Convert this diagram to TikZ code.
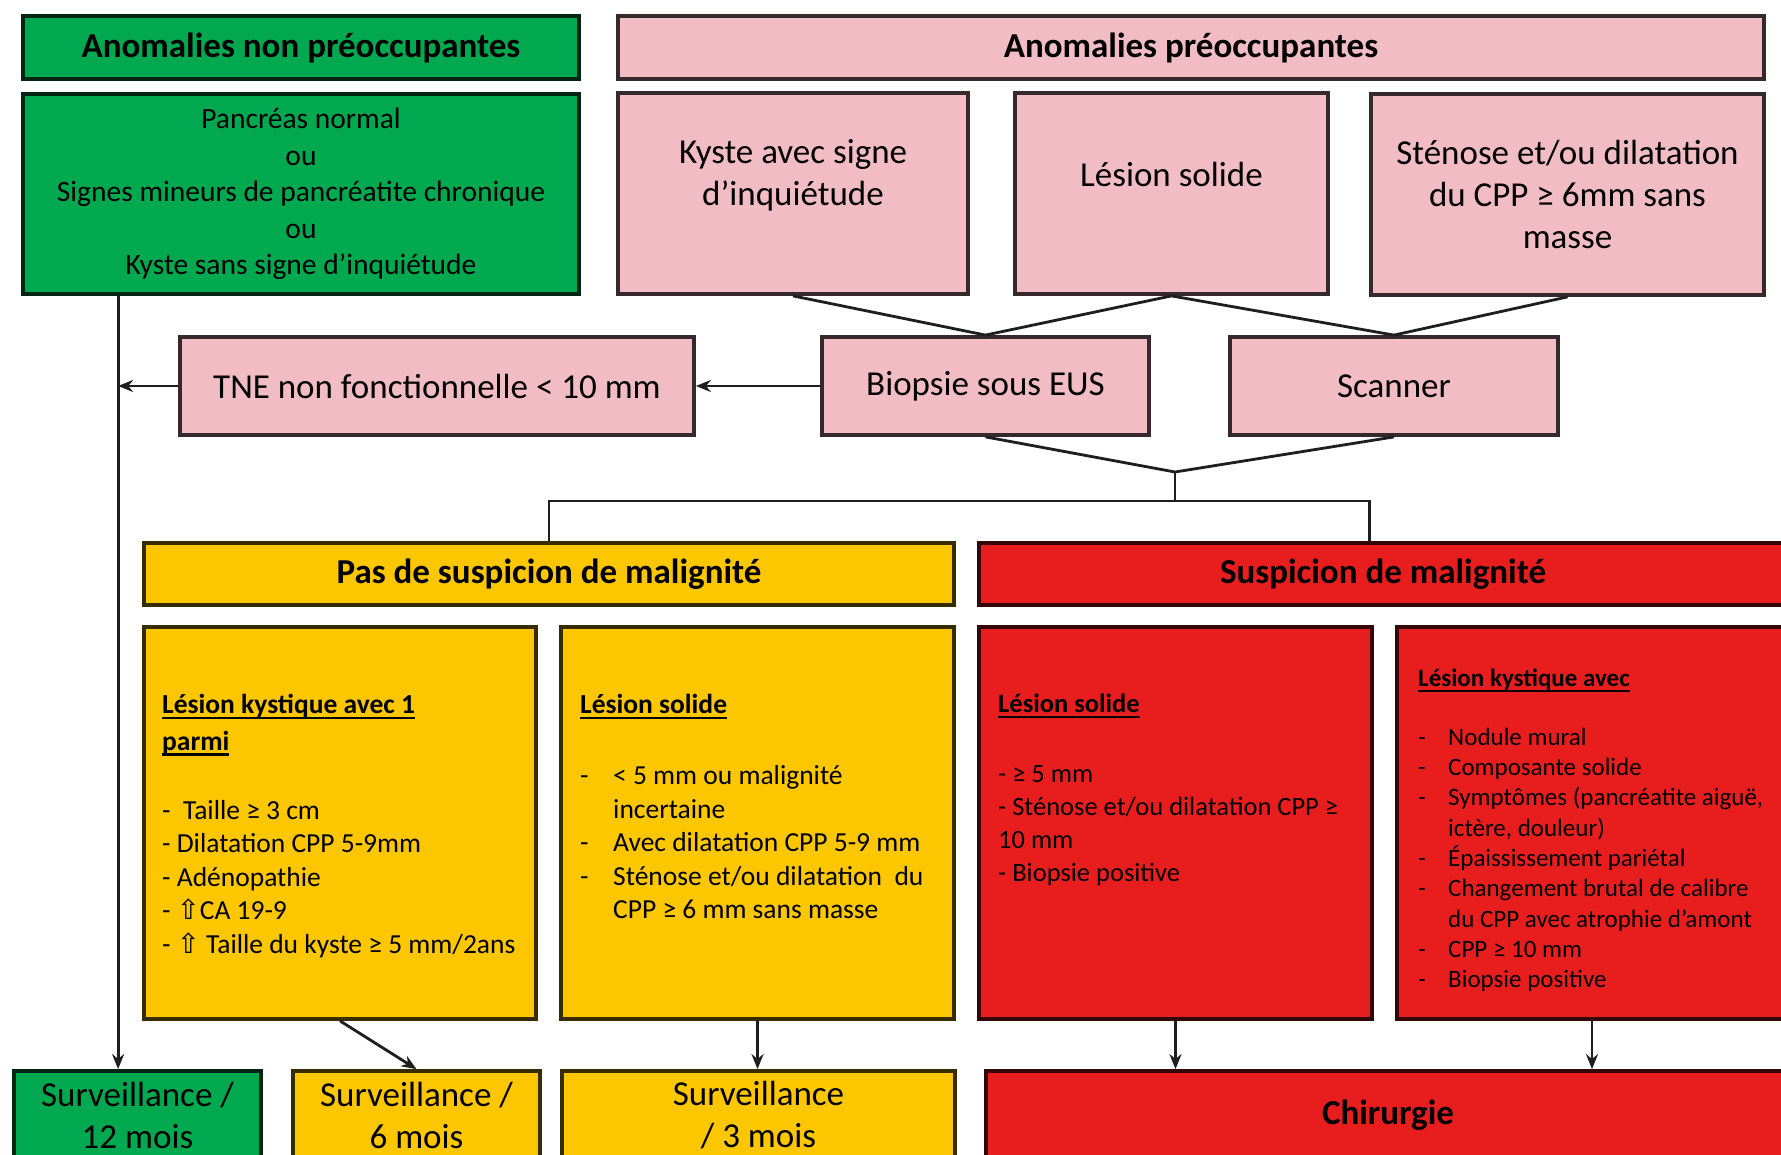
\documentclass[tikz,border=0pt]{standalone}
\usepackage{fontspec}
\setmainfont{Carlito}
\newfontfamily\symfont{DejaVu Sans}
\usetikzlibrary{arrows.meta,calc}

\definecolor{cgreen}{RGB}{0,168,80}
\definecolor{cpink}{RGB}{242,188,196}
\definecolor{cyellow}{RGB}{252,198,0}
\definecolor{cred}{RGB}{232,30,30}
\definecolor{cline}{RGB}{30,30,30}

% font sizes (1pt = one unit of the drawing)
\newcommand\fbig{\fontsize{35}{42}\selectfont}
\newcommand\fgrn{\fontsize{29.5}{36.6}\selectfont}
\newcommand\fmid{\fontsize{27.5}{33.5}\selectfont}
\newcommand\fredb{\fontsize{26.5}{33}\selectfont}
\newcommand\fsml{\fontsize{25}{30.3}\selectfont}
% bold heading with a thick underline
\newcommand\ulbold[1]{\setbox0=\hbox{\bfseries #1}\rlap{\vrule height -3pt depth 5.5pt width \wd0}\box0}
\newcommand\uparr{{\symfont ⇧}}
\newcommand\itm[2][28pt]{\makebox[#1][l]{-}#2}
\newcommand\contl[2][28pt]{\hspace*{#1}#2}

\begin{document}
\begin{tikzpicture}[x=1pt,y=-1pt,
  cell/.style={draw=#1!22!black, fill=#1, line width=3.8pt, rectangle,
               inner sep=0pt, align=center, text=black},
  conn/.style={draw=cline, line width=2.8pt},
  arr/.style={conn, -{Stealth[length=15pt,width=12pt]}},
  txt/.style={inner sep=0pt, align=left, anchor=north west, text=black}]

\useasboundingbox (0,0) rectangle (1781,1155);
\fill[white] (0,0) rectangle (1781,1155);
\clip (0,0) rectangle (1781,1155);

% ---- top row: headers
\node[cell=cgreen, minimum width=556pt, minimum height=63pt, font=\fbig\bfseries]
  (gh) at (301,47.5) {Anomalies non préoccupantes};
\node[cell=cpink, minimum width=1146pt, minimum height=63pt, font=\fbig\bfseries]
  (ph) at (1191,47.5) {Anomalies préoccupantes};

% ---- first level boxes
\node[cell=cgreen, minimum width=556pt, minimum height=200pt, font=\fgrn]
  (gb) at (301,194) {Pancréas normal\\ou\\Signes mineurs de pancréatite chronique\\ou\\Kyste sans signe d’inquiétude};
\node[cell=cpink, minimum width=350pt, minimum height=201pt] (kyste) at (793,193.5) {};
\node[txt, anchor=center, align=center, font=\fbig] (kyste-t) at (793,175)
  {Kyste avec signe\\d’inquiétude};
\node[cell=cpink, minimum width=313pt, minimum height=201pt] (lesion) at (1171.5,193.5) {};
\node[txt, anchor=center, align=center, font=\fbig] (lesion-t) at (1171.5,174)
  {Lésion solide};
\node[cell=cpink, minimum width=393pt, minimum height=201pt, font=\fbig]
  (stenose) at (1567.5,194.5) {Sténose et/ou dilatation\\du CPP ≥ 6mm sans\\masse};

% ---- examinations
\node[cell=cpink, minimum width=514pt, minimum height=98pt, font=\fbig]
  (tne) at (437,386) {TNE non fonctionnelle < 10 mm};
\node[cell=cpink, minimum width=327pt, minimum height=98pt, font=\fbig]
  (bio) at (985.5,386) {Biopsie sous EUS};
\node[cell=cpink, minimum width=328pt, minimum height=98pt, font=\fbig]
  (scan) at (1394,386) {Scanner};

% ---- malignancy headers
\node[cell=cyellow, minimum width=810pt, minimum height=62pt, font=\fbig\bfseries]
  (yh) at (549,574) {Pas de suspicion de malignité};
\node[cell=cred, minimum width=808pt, minimum height=62pt, font=\fbig\bfseries]
  (rh) at (1383,574) {Suspicion de malignité};

% ---- criteria boxes
\node[cell=cyellow, minimum width=392pt, minimum height=392pt] (y1) at (340,823) {};
\node[cell=cyellow, minimum width=393pt, minimum height=392pt] (y2) at (757.5,823) {};
\node[cell=cred, minimum width=393pt, minimum height=392pt] (r1) at (1175.5,823) {};
\node[cell=cred, minimum width=390pt, minimum height=392pt] (r2) at (1592,823) {};

\node[txt, font=\fmid] (y1-t) at (162,694)
  {\ulbold{Lésion kystique avec 1}\\[3pt]
   \ulbold{parmi}\\[35.5pt]
   -~~Taille ≥ 3 cm\\
   -~Dilatation CPP 5-9mm\\
   -~Adénopathie\\
   -~\uparr CA 19-9\\
   -~\uparr{} Taille du kyste ≥ 5 mm/2ans};
\node[txt, font=\fmid] (y2-t) at (580,694)
  {\ulbold{Lésion solide}\\[37.5pt]
   \itm[33pt]{< 5 mm ou malignité}\\
   \contl[33pt]{incertaine}\\
   \itm[33pt]{Avec dilatation CPP 5-9 mm}\\
   \itm[33pt]{Sténose et/ou dilatation~~du}\\
   \contl[33pt]{CPP ≥ 6 mm sans masse}};
\node[txt, font=\fredb] (r1-t) at (998,694)
  {\ulbold{Lésion solide}\\[37pt]
   -~≥ 5 mm\\
   -~Sténose et/ou dilatation CPP ≥\\
   10 mm\\
   -~Biopsie positive};
\node[txt, font=\fsml] (r2-t) at (1418,669)
  {\ulbold{Lésion kystique avec}\\[28.3pt]
   \itm[30pt]{Nodule mural}\\
   \itm[30pt]{Composante solide}\\
   \itm[30pt]{Symptômes (pancréatite aiguë,}\\
   \contl[30pt]{ictère, douleur)}\\
   \itm[30pt]{Épaississement pariétal}\\
   \itm[30pt]{Changement brutal de calibre}\\
   \contl[30pt]{du CPP avec atrophie d’amont}\\
   \itm[30pt]{CPP ≥ 10 mm}\\
   \itm[30pt]{Biopsie positive}};

% ---- outcomes
\node[cell=cgreen, minimum width=247pt, minimum height=88pt, font=\fbig]
  (s12) at (137.5,1115) {Surveillance /\\12 mois};
\node[cell=cyellow, minimum width=247pt, minimum height=88pt, font=\fbig]
  (s6) at (416.5,1115) {Surveillance /\\6 mois};
\node[cell=cyellow, minimum width=393pt, minimum height=88pt, font=\fbig]
  (s3) at (758.5,1115) {Surveillance\\/ 3 mois};
\node[cell=cred, minimum width=804pt, minimum height=88pt, font=\fbig\bfseries]
  (chir) at (1388,1115) {Chirurgie};

% ---- connectors
\draw[conn] (kyste.south) -- (bio.north);
\draw[conn] (lesion.south) -- (bio.north);
\draw[conn] (lesion.south) -- (scan.north);
\draw[conn] (stenose.south) -- (scan.north);

\coordinate (jn) at (1175,472);
\draw[conn] (bio.south) -- (jn) -- (scan.south);
\draw[conn] (jn) -- ++(0,29) coordinate (jb);
\coordinate (rhtop) at ($(rh.north west)+(392,0)$);
\draw[conn] (yh.north) |- (jb) -| (rhtop);

\draw[arr] (bio.west) -- (tne.east);
\coordinate (gl) at ($(gb.south west)+(97,0)$);
\draw[arr] (gl) -- (gl |- s12.north);
\draw[arr] (tne.west) -- (tne.west -| gl);

\draw[arr] (y1.south) -- (s6.north);
\draw[arr] (y2.south) -- (y2.south |- s3.north);
\draw[arr] (r1.south) -- (r1.south |- chir.north);
\draw[arr] (r2.south) -- (r2.south |- chir.north);
\end{tikzpicture}
\end{document}
